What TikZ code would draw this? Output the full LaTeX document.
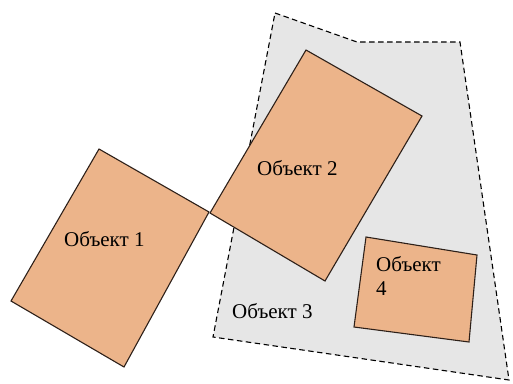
\documentclass[tikz,border=0pt]{standalone}
\usepackage{fontspec}
\setmainfont{Liberation Serif}
\definecolor{objfill}{RGB}{236,180,138}
\definecolor{zonefill}{RGB}{230,230,230}
\definecolor{objline}{RGB}{45,32,25}
\begin{document}
\begin{tikzpicture}[x=1pt,y=-1pt,
  zone/.style={draw=black,fill=zonefill,dash pattern=on 5.5pt off 3.5pt,line width=1.1pt},
  obj/.style={draw=objline,fill=objfill,line width=1.1pt,line join=miter},
  lbl/.style={font=\fontsize{21}{24}\selectfont,inner sep=0pt,anchor=base west,align=left}]
  \useasboundingbox (0,0) rectangle (513,383);
  % dashed zone (Объект 3)
  \coordinate (z1) at (275,13);
  \coordinate (z2) at (357,42);
  \coordinate (z3) at (460,42);
  \coordinate (z4) at (509,380);
  \coordinate (z5) at (213,337);
  \path[zone] (z1) -- (z2) -- (z3) -- (z4) -- (z5) -- cycle;
  % Объект 2
  \coordinate (b1) at (306,50);
  \coordinate (b2) at (422,116);
  \coordinate (b3) at (325,281);
  \coordinate (b4) at (210,213);
  \path[obj] (b1) -- (b2) -- (b3) -- (b4) -- cycle;
  % Объект 1
  \coordinate (a1) at (99,149);
  \coordinate (a2) at (209,212);
  \coordinate (a3) at (124,367);
  \coordinate (a4) at (11,301);
  \path[obj] (a1) -- (a2) -- (a3) -- (a4) -- cycle;
  % Объект 4
  \coordinate (d1) at (366,237);
  \coordinate (d2) at (477,255);
  \coordinate (d3) at (469,342);
  \coordinate (d4) at (354,327);
  \path[obj] (d1) -- (d2) -- (d3) -- (d4) -- cycle;
  % labels
  \node[lbl] (t1) at (64,246) {Объект 1};
  \node[lbl] (t2) at (257,175) {Объект 2};
  \node[lbl] (t3) at (232,318) {Объект 3};
  \node[lbl] (t4) at (376,295) {Объект\\4};
\end{tikzpicture}
\end{document}
